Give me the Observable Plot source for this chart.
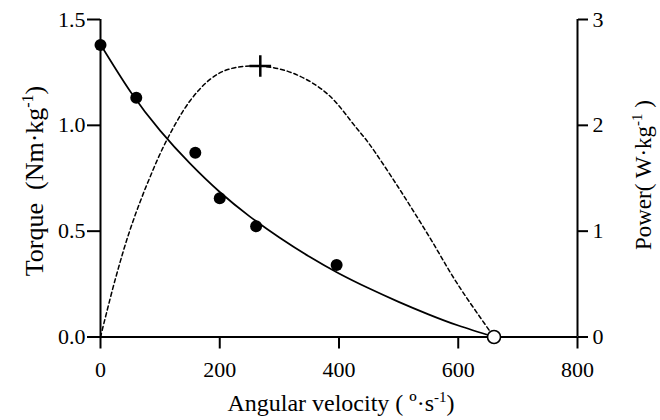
<!DOCTYPE html>
<html>
<head>
<meta charset="utf-8">
<script src="https://cdn.jsdelivr.net/npm/d3@7"></script>
<script src="https://cdn.jsdelivr.net/npm/@observablehq/plot@0.6"></script>
<style>
  html, body { margin: 0; padding: 0; background: #fff; }
</style>
</head>
<body>
<div id="chart"></div>
<script>
// Measured torque points
const velocity = [0, 60, 159, 200, 261, 396];
const torque = [1.38, 1.13, 0.87, 0.655, 0.523, 0.34];

// Fitted torque-velocity curve
const fitVelocity = [0, 50, 100, 150, 200, 250, 300, 350, 400, 450, 500, 550, 600, 660];
const fitTorque = [1.382, 1.16, 0.975, 0.82, 0.685, 0.57, 0.47, 0.38, 0.30, 0.23, 0.166, 0.107, 0.054, 0];

// Power curve (W·kg-1)
const powerVelocity = [0, 25, 50, 80, 112, 150, 185, 215, 268, 324, 380, 430, 450, 500, 550, 600, 660];
const power = [0, 0.55, 1.02, 1.47, 1.87, 2.23, 2.44, 2.53, 2.56, 2.49, 2.30, 1.97, 1.83, 1.41, 0.96, 0.49, 0];

// Special points
const maxVelocity = [660];
const maxVelocityTorque = [0];
const peakPowerVelocity = [268];
const peakPower = [2.56];

// Tick labels
const xTicks = [0, 200, 400, 600, 800];
const torqueTicks = [0, 0.5, 1.0, 1.5];
const powerTicks = [0, 1, 2, 3];

const measured = velocity.map((v, i) => ({v, t: torque[i]}));
const fit = fitVelocity.map((v, i) => ({v, t: fitTorque[i]}));
const powerData = powerVelocity.map((v, i) => ({v, p: power[i]}));
const vmaxData = maxVelocity.map((v, i) => ({v, t: maxVelocityTorque[i]}));
const peakData = peakPowerVelocity.map((v, i) => ({v, p: peakPower[i]}));

const ratio = 1.5 / 3; // power axis 0-3 maps onto torque axis 0-1.5
const font = '"Liberation Serif", "Times New Roman", serif';

const chart = Plot.plot({
  width: 660,
  height: 420,
  marginLeft: 100,
  marginRight: 83,
  marginTop: 19,
  marginBottom: 83.5,
  style: {fontFamily: font, fontSize: "22px", color: "black", background: "white"},
  x: {domain: [0, 800]},
  y: {domain: [0, 1.5]},
  marks: [
    Plot.axisX({ticks: xTicks, tickSize: 12, tickPadding: 12, strokeWidth: 2, label: null, tickFormat: d => String(d)}),
    Plot.axisY({anchor: "left", ticks: torqueTicks, tickSize: 13, tickPadding: 2, strokeWidth: 2, label: null, tickFormat: d3.format(".1f")}),
    Plot.axisY({anchor: "right", ticks: powerTicks.map(p => p * ratio), tickSize: 10, tickPadding: 5, strokeWidth: 2, label: null, tickFormat: d => String(Math.round(d / ratio))}),
    Plot.ruleY([0], {strokeWidth: 2}),
    Plot.ruleX([0, 800], {strokeWidth: 2}),
    Plot.line(powerData, {x: "v", y: d => d.p * ratio, curve: "catmull-rom", stroke: "black", strokeWidth: 1.5, strokeDasharray: "4,3"}),
    Plot.line(fit, {x: "v", y: "t", curve: "natural", stroke: "black", strokeWidth: 1.7}),
    Plot.dot(measured, {x: "v", y: "t", r: 6, fill: "black"}),
    Plot.dot(vmaxData, {x: "v", y: "t", r: 6.5, fill: "white", stroke: "black", strokeWidth: 1.6}),
    Plot.dot(peakData, {x: "v", y: d => d.p * ratio, symbol: "plus", r: 7, stroke: "black", strokeWidth: 2.5})
  ]
});

document.getElementById("chart").appendChild(chart);

const svg = d3.select(chart);

// X axis title
const xt = svg.append("text")
  .attr("x", 341).attr("y", 411)
  .attr("text-anchor", "middle")
  .style("font-family", font).attr("font-size", 24).attr("fill", "black");
xt.append("tspan").text("Angular velocity ( \u00BA\u00B7s");
xt.append("tspan").attr("dy", -9).attr("font-size", 15).text("-1");
xt.append("tspan").attr("dy", 9).text(")");

// Left Y title
const yl = svg.append("text")
  .attr("transform", "translate(43,181) rotate(-90)")
  .attr("text-anchor", "middle")
  .style("font-family", font).attr("font-size", 26).attr("fill", "black")
  .style("white-space", "pre");
yl.append("tspan").text("Torque  (Nm\u00B7kg");
yl.append("tspan").attr("dy", -10).attr("font-size", 16).text("-1");
yl.append("tspan").attr("dy", 10).text(")");

// Right Y title
const yr = svg.append("text")
  .attr("transform", "translate(651,175) rotate(-90)")
  .attr("text-anchor", "middle")
  .style("font-family", font).attr("font-size", 23).attr("fill", "black")
  .style("white-space", "pre");
yr.append("tspan").text("Power( W\u00B7kg");
yr.append("tspan").attr("dy", -9).attr("font-size", 15).text("-1");
yr.append("tspan").attr("dy", 9).text(" )");
</script>
</body>
</html>
